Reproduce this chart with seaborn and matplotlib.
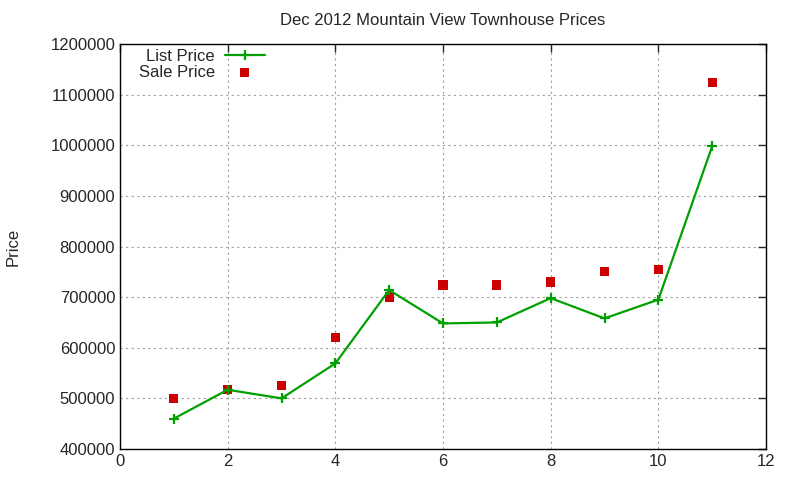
import pandas as pd
import seaborn as sns
import matplotlib.pyplot as plt

# values
months = [1, 2, 3, 4, 5, 6, 7, 8, 9, 10, 11]
list_price = [460000, 517000, 500000, 569000, 714000, 648000, 650000, 698000, 658000, 695000, 998000]
sale_price = [500000, 517000, 525000, 620000, 700000, 724000, 724000, 730000, 750000, 755000, 1124000]

df = pd.DataFrame({"x": months, "List Price": list_price, "Sale Price": sale_price})

sns.set_style("white")
plt.rcParams["font.family"] = ["Liberation Sans", "DejaVu Sans"]

fig = plt.figure(figsize=(8, 4.8), dpi=100)
ax = fig.add_axes([0.15, 0.0646, 0.8075, 0.8437])

sns.lineplot(data=df, x="x", y="List Price", ax=ax, color="#00a000", lw=1.6,
             marker="+", markersize=7, markeredgewidth=1.6, markeredgecolor="#00a000",
             label="List Price")
sns.scatterplot(data=df, x="x", y="Sale Price", ax=ax, color="#cc0000", marker="s",
                s=45, edgecolor="none", label="Sale Price")

ax.set_xlim(0, 12)
ax.set_ylim(400000, 1200000)
ax.set_xticks(range(0, 13, 2))
ax.set_yticks(range(400000, 1200001, 100000))
ax.ticklabel_format(style="plain", axis="y")
ax.grid(True, color="#a0a0a0", linestyle=(0, (2, 3)), lw=0.8)
ax.tick_params(direction="in", top=True, right=True, labelsize=12, length=6, width=1)
for s in ax.spines.values():
    s.set_color("black")
    s.set_linewidth(1)

ax.set_xlabel("")
ax.set_ylabel("Price", fontsize=12)
ax.yaxis.set_label_coords(-0.154, 0.5)
ax.set_title("Dec 2012 Mountain View Townhouse Prices", fontsize=12, pad=14)

ax.legend(loc="upper left", bbox_to_anchor=(0.008, 1.02), markerfirst=False, frameon=False,
          fontsize=12, handlelength=2.4, labelspacing=0.05, borderpad=0.3, handletextpad=0.6)

fig.savefig("out.png", dpi=100)
